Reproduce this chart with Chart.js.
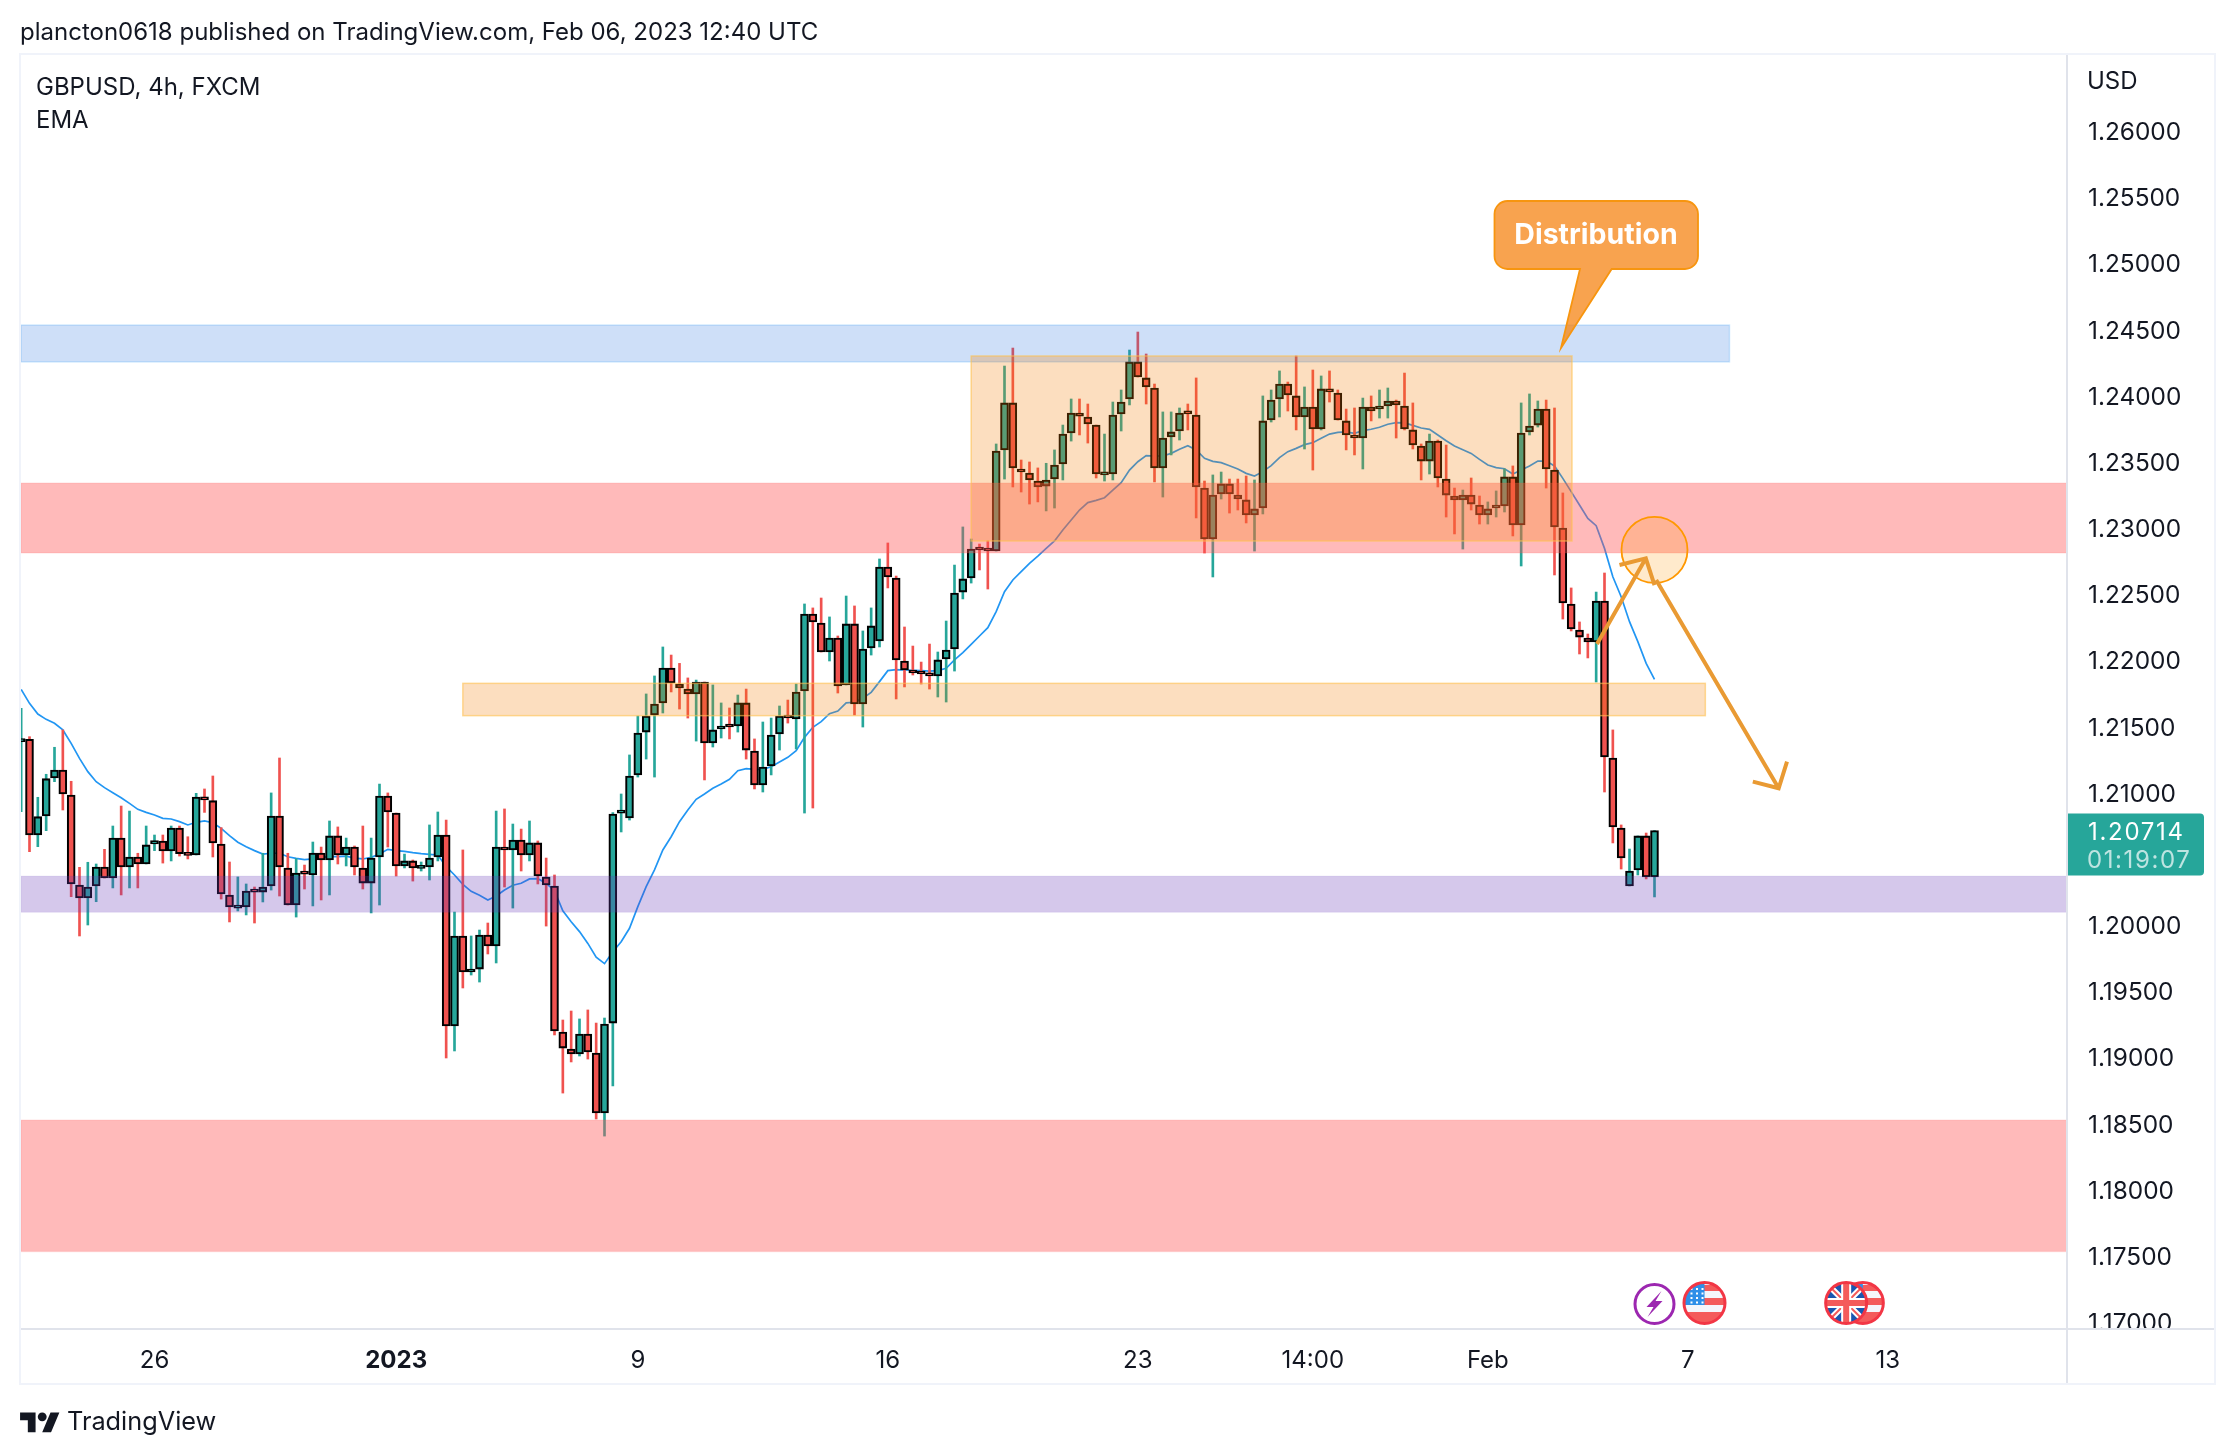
<!DOCTYPE html>
<html>
<head>
<meta charset="utf-8">
<title>GBPUSD, 4h, FXCM</title>
<script src="https://cdn.jsdelivr.net/npm/chart.js@4/dist/chart.umd.min.js"></script>
<style>
  html, body { margin: 0; padding: 0; background: #fff; }
  body { width: 2234px; height: 1454px; position: relative; overflow: hidden; font-family: Inter, sans-serif; color: #131722; }
  canvas { position: absolute; left: 0; top: 0; }
  .label { position: absolute; white-space: nowrap; font-size: 24px; line-height: 30px; }
  #logo { position: absolute; left: 20px; top: 1408px; width: 40px; height: 31px; }
</style>
</head>
<body>
<canvas id="chart" width="2234" height="1454"></canvas>
<div class="label" style="left:20px;top:17px">plancton0618 published on TradingView.com, Feb 06, 2023 12:40 UTC</div>
<div class="label" style="left:36px;top:72px">GBPUSD, 4h, FXCM</div>
<div class="label" style="left:36px;top:105px">EMA</div>
<div class="label" style="left:2087px;top:66px">USD</div>
<svg id="logo" viewBox="0 0 36 28"><path fill="#131722" d="M14 22H7V11H0V4h14v18zM28 22h-8l7.5-18h8L28 22z"/><circle fill="#131722" cx="20" cy="8" r="4"/></svg>
<div class="label" style="left:67px;top:1406px;font-size:25.3px">TradingView</div>

<script>
const opens = [
  1.21385, 1.21403, 1.20680, 1.20824, 1.21111, 1.21171, 1.20982, 1.20302, 1.20204, 1.20295,
  1.20438, 1.20355, 1.20657, 1.20438, 1.20514, 1.20461, 1.20612, 1.20635, 1.20559, 1.20733,
  1.20531, 1.20529, 1.20967, 1.20940, 1.20612, 1.20227, 1.20128, 1.20136, 1.20257, 1.20249,
  1.20295, 1.20824, 1.20431, 1.20151, 1.20393, 1.20378, 1.20544, 1.20491, 1.20673, 1.20529,
  1.20589, 1.20431, 1.20317, 1.20514, 1.20975, 1.20846, 1.20446, 1.20484, 1.20428, 1.20438,
  1.20514, 1.20680, 1.19237, 1.19917, 1.19645, 1.19667, 1.19924, 1.19841, 1.20589, 1.20567,
  1.20642, 1.20529, 1.20620, 1.20363, 1.20295, 1.19191, 1.19063, 1.19025, 1.19176, 1.19033,
  1.18579, 1.19259, 1.20846, 1.20809, 1.21134, 1.21458, 1.21587, 1.21678, 1.21942, 1.21821,
  1.21783, 1.21746, 1.21836, 1.21375, 1.21481, 1.21504, 1.21504, 1.21678, 1.21315, 1.21058,
  1.21202, 1.21443, 1.21579, 1.21557, 1.21768, 1.22350, 1.22282, 1.22063, 1.22169, 1.21814,
  1.22275, 1.21670, 1.22093, 1.22146, 1.22705, 1.22622, 1.21995, 1.21919, 1.21904, 1.21889,
  1.21882, 1.22010, 1.22086, 1.22516, 1.22622, 1.22841, 1.22834, 1.22826, 1.23590, 1.23945,
  1.23446, 1.23416, 1.23355, 1.23317, 1.23370, 1.23484, 1.23718, 1.23869, 1.23839, 1.23778,
  1.23401, 1.23408, 1.23862, 1.23975, 1.24255, 1.24134, 1.24058, 1.23454, 1.23688, 1.23733,
  1.23869, 1.23854, 1.23302, 1.22917, 1.23257, 1.23333, 1.23249, 1.23212, 1.23098, 1.23151,
  1.23816, 1.23975, 1.24088, 1.23998, 1.23839, 1.23914, 1.23748, 1.24051, 1.24020, 1.23809,
  1.23695, 1.23680, 1.23914, 1.23899, 1.23922, 1.23960, 1.23922, 1.23741, 1.23620, 1.23506,
  1.23657, 1.23370, 1.23242, 1.23212, 1.23249, 1.23174, 1.23098, 1.23151, 1.23166, 1.23386,
  1.23023, 1.23726, 1.23778, 1.23899, 1.23438, 1.23000, 1.22426, 1.22229, 1.22169, 1.22139,
  1.22448, 1.21262, 1.20733, 1.20295, 1.20416, 1.20673, 1.20363
]
const highs = [
  1.21637, 1.21423, 1.20965, 1.21139, 1.21343, 1.21474, 1.21086, 1.20436, 1.20474, 1.20461,
  1.20572, 1.20748, 1.20899, 1.20861, 1.20542, 1.20748, 1.20680, 1.20680, 1.20748, 1.20748,
  1.20667, 1.20995, 1.21028, 1.21126, 1.20736, 1.20476, 1.20363, 1.20310, 1.20287, 1.20542,
  1.20998, 1.21262, 1.20542, 1.20501, 1.20453, 1.20627, 1.20589, 1.20786, 1.20741, 1.20657,
  1.20597, 1.20748, 1.20657, 1.21065, 1.20998, 1.20846, 1.20536, 1.20491, 1.20476, 1.20756,
  1.20854, 1.20793, 1.20098, 1.20567, 1.19917, 1.19962, 1.20015, 1.20861, 1.20877, 1.20763,
  1.20725, 1.20786, 1.20635, 1.20506, 1.20378, 1.19282, 1.19350, 1.19290, 1.19358, 1.19259,
  1.19297, 1.20850, 1.20990, 1.21285, 1.21579, 1.21746, 1.21882, 1.22101, 1.22040, 1.21977,
  1.21867, 1.21851, 1.21836, 1.21814, 1.21678, 1.21640, 1.21738, 1.21783, 1.21406, 1.21534,
  1.21564, 1.21655, 1.21700, 1.21821, 1.22426, 1.22396, 1.22471, 1.22328, 1.22184, 1.22486,
  1.22411, 1.22222, 1.22396, 1.22766, 1.22887, 1.22637, 1.22252, 1.22108, 1.21987, 1.22123,
  1.22063, 1.22297, 1.22720, 1.23008, 1.22917, 1.22879, 1.22902, 1.23635, 1.24224, 1.24360,
  1.23514, 1.23499, 1.23454, 1.23489, 1.23590, 1.23778, 1.23975, 1.23975, 1.23937, 1.23778,
  1.23710, 1.23952, 1.24043, 1.24345, 1.24481, 1.24315, 1.24088, 1.23877, 1.23877, 1.23907,
  1.23937, 1.24134, 1.23355, 1.23401, 1.23423, 1.23370, 1.23370, 1.23393, 1.23363, 1.23998,
  1.24043, 1.24187, 1.24103, 1.24300, 1.24066, 1.24194, 1.24149, 1.24187, 1.24043, 1.23899,
  1.23907, 1.23982, 1.23998, 1.24043, 1.24058, 1.23967, 1.24171, 1.23945, 1.23635, 1.23710,
  1.23665, 1.23627, 1.23302, 1.23287, 1.23378, 1.23242, 1.23197, 1.23280, 1.23446, 1.23469,
  1.23945, 1.24013, 1.23960, 1.23967, 1.23907, 1.23265, 1.22547, 1.22290, 1.22199, 1.22516,
  1.22660, 1.21474, 1.20756, 1.20574, 1.20673, 1.20695, 1.20714
]
const lows = [
  1.20856, 1.20554, 1.20592, 1.20713, 1.21083, 1.20869, 1.20214, 1.19917, 1.20000, 1.20176,
  1.20355, 1.20280, 1.20227, 1.20280, 1.20280, 1.20461, 1.20562, 1.20468, 1.20484, 1.20521,
  1.20499, 1.20529, 1.20851, 1.20514, 1.20196, 1.20023, 1.20106, 1.20076, 1.20015, 1.20174,
  1.20264, 1.20219, 1.20151, 1.20060, 1.20272, 1.20144, 1.20189, 1.20227, 1.20461, 1.20446,
  1.20378, 1.20272, 1.20091, 1.20151, 1.20589, 1.20370, 1.20431, 1.20332, 1.20408, 1.20340,
  1.20484, 1.18995, 1.19048, 1.19524, 1.19622, 1.19569, 1.19781, 1.19713, 1.20287, 1.20128,
  1.20408, 1.20484, 1.20310, 1.19992, 1.19169, 1.18730, 1.18965, 1.19010, 1.18987, 1.18534,
  1.18405, 1.18783, 1.20703, 1.20793, 1.21118, 1.21254, 1.21118, 1.21602, 1.21761, 1.21632,
  1.21564, 1.21390, 1.21096, 1.21345, 1.21413, 1.21406, 1.21458, 1.21254, 1.21028, 1.21005,
  1.21134, 1.21322, 1.21526, 1.21330, 1.20846, 1.20884, 1.22063, 1.21995, 1.21753, 1.21814,
  1.21587, 1.21496, 1.22040, 1.22101, 1.22547, 1.21708, 1.21799, 1.21889, 1.21821, 1.21783,
  1.21723, 1.21685, 1.21919, 1.22464, 1.22584, 1.22683, 1.22539, 1.22826, 1.23370, 1.23310,
  1.23272, 1.23181, 1.23197, 1.23129, 1.23151, 1.23363, 1.23657, 1.23703, 1.23642, 1.23378,
  1.23355, 1.23363, 1.23733, 1.23930, 1.24141, 1.23937, 1.23348, 1.23234, 1.23552, 1.23665,
  1.23741, 1.23076, 1.22811, 1.22630, 1.23219, 1.23113, 1.23136, 1.23038, 1.22826, 1.23106,
  1.23801, 1.23839, 1.23884, 1.23741, 1.23597, 1.23438, 1.23741, 1.23952, 1.23816, 1.23590,
  1.23552, 1.23446, 1.23809, 1.23831, 1.23831, 1.23680, 1.23741, 1.23597, 1.23363, 1.23408,
  1.23310, 1.23083, 1.22955, 1.22841, 1.23136, 1.23030, 1.23030, 1.23083, 1.23121, 1.22940,
  1.22713, 1.23703, 1.23763, 1.23302, 1.22645, 1.22312, 1.22222, 1.22048, 1.22018, 1.21836,
  1.21005, 1.20620, 1.20423, 1.20295, 1.20378, 1.20348, 1.20212
]
const closes = [
  1.21408, 1.20680, 1.20819, 1.21106, 1.21171, 1.20990, 1.20310, 1.20204, 1.20287, 1.20438,
  1.20355, 1.20657, 1.20438, 1.20514, 1.20461, 1.20605, 1.20637, 1.20559, 1.20733, 1.20539,
  1.20526, 1.20967, 1.20945, 1.20620, 1.20234, 1.20136, 1.20136, 1.20257, 1.20249, 1.20287,
  1.20824, 1.20438, 1.20151, 1.20393, 1.20385, 1.20544, 1.20491, 1.20673, 1.20529, 1.20589,
  1.20438, 1.20317, 1.20506, 1.20975, 1.20854, 1.20446, 1.20484, 1.20431, 1.20433, 1.20506,
  1.20680, 1.19237, 1.19917, 1.19645, 1.19660, 1.19924, 1.19841, 1.20589, 1.20567, 1.20642,
  1.20529, 1.20620, 1.20370, 1.20302, 1.19199, 1.19070, 1.19025, 1.19176, 1.19040, 1.18579,
  1.19252, 1.20839, 1.20854, 1.21126, 1.21451, 1.21579, 1.21670, 1.21942, 1.21829, 1.21791,
  1.21746, 1.21836, 1.21375, 1.21474, 1.21496, 1.21496, 1.21678, 1.21322, 1.21058, 1.21194,
  1.21436, 1.21579, 1.21564, 1.21761, 1.22350, 1.22290, 1.22063, 1.22169, 1.21806, 1.22275,
  1.21670, 1.22086, 1.22260, 1.22705, 1.22630, 1.22003, 1.21927, 1.21904, 1.21897, 1.21882,
  1.22003, 1.22078, 1.22509, 1.22615, 1.22841, 1.22834, 1.22826, 1.23582, 1.23945, 1.23454,
  1.23423, 1.23363, 1.23310, 1.23363, 1.23476, 1.23710, 1.23869, 1.23846, 1.23786, 1.23408,
  1.23411, 1.23854, 1.23952, 1.24255, 1.24141, 1.24066, 1.23454, 1.23680, 1.23726, 1.23869,
  1.23862, 1.23310, 1.22917, 1.23249, 1.23333, 1.23257, 1.23219, 1.23098, 1.23144, 1.23809,
  1.23967, 1.24088, 1.24005, 1.23839, 1.23914, 1.23748, 1.24051, 1.24028, 1.23816, 1.23703,
  1.23680, 1.23914, 1.23884, 1.23914, 1.23960, 1.23930, 1.23748, 1.23627, 1.23506, 1.23657,
  1.23378, 1.23249, 1.23212, 1.23249, 1.23181, 1.23098, 1.23144, 1.23159, 1.23386, 1.23023,
  1.23718, 1.23771, 1.23899, 1.23446, 1.23008, 1.22433, 1.22237, 1.22176, 1.22139, 1.22448,
  1.21270, 1.20741, 1.20506, 1.20408, 1.20673, 1.20363, 1.20714
]
const emaValues = [
  1.21781, 1.21675, 1.21594, 1.21554, 1.21524, 1.21474, 1.21373, 1.21259, 1.21159, 1.21083,
  1.21038, 1.21000, 1.20962, 1.20919, 1.20874, 1.20851, 1.20831, 1.20806, 1.20801, 1.20781,
  1.20756, 1.20776, 1.20786, 1.20773, 1.20730, 1.20675, 1.20625, 1.20592, 1.20562, 1.20536,
  1.20542, 1.20542, 1.20516, 1.20504, 1.20494, 1.20499, 1.20511, 1.20516, 1.20516, 1.20521,
  1.20506, 1.20499, 1.20511, 1.20536, 1.20572, 1.20562, 1.20557, 1.20547, 1.20539, 1.20534,
  1.20529, 1.20441, 1.20378, 1.20307, 1.20254, 1.20224, 1.20189, 1.20219, 1.20264, 1.20300,
  1.20315, 1.20348, 1.20350, 1.20315, 1.20259, 1.20108, 1.20025, 1.19950, 1.19861, 1.19756,
  1.19708, 1.19798, 1.19874, 1.19975, 1.20139, 1.20290, 1.20416, 1.20567, 1.20667, 1.20781,
  1.20869, 1.20950, 1.20990, 1.21033, 1.21065, 1.21101, 1.21166, 1.21181, 1.21176, 1.21176,
  1.21196, 1.21232, 1.21267, 1.21317, 1.21418, 1.21494, 1.21537, 1.21597, 1.21617, 1.21678,
  1.21683, 1.21713, 1.21758, 1.21839, 1.21922, 1.21930, 1.21927, 1.21925, 1.21922, 1.21919,
  1.21922, 1.21940, 1.22003, 1.22058, 1.22121, 1.22184, 1.22247, 1.22368, 1.22519, 1.22607,
  1.22670, 1.22733, 1.22788, 1.22846, 1.22902, 1.22985, 1.23061, 1.23136, 1.23192, 1.23209,
  1.23229, 1.23287, 1.23343, 1.23438, 1.23501, 1.23547, 1.23544, 1.23544, 1.23564, 1.23595,
  1.23622, 1.23590, 1.23527, 1.23504, 1.23494, 1.23471, 1.23446, 1.23413, 1.23393, 1.23426,
  1.23471, 1.23532, 1.23577, 1.23602, 1.23630, 1.23645, 1.23678, 1.23710, 1.23723, 1.23726,
  1.23715, 1.23736, 1.23746, 1.23761, 1.23784, 1.23796, 1.23794, 1.23776, 1.23756, 1.23746,
  1.23703, 1.23660, 1.23620, 1.23592, 1.23564, 1.23519, 1.23476, 1.23456, 1.23448, 1.23408,
  1.23438, 1.23469, 1.23506, 1.23506, 1.23469, 1.23375, 1.23275, 1.23174, 1.23073, 1.23018,
  1.22846, 1.22632, 1.22481, 1.22292, 1.22141, 1.21977, 1.21856
]

const priceTicks = [1.26, 1.255, 1.25, 1.245, 1.24, 1.235, 1.23, 1.225, 1.22, 1.215, 1.21, 1.205, 1.2, 1.195, 1.19, 1.185, 1.18, 1.175, 1.17]
const timeTickIndex = [16, 45, 74, 104, 134, 155, 176, 200, 224]
const timeTickLabels = ["26", "2023", "9", "16", "23", "14:00", "Feb", "7", "13"]
const lastPrice = 1.20714
const lastPriceCountdown = "01:19:07"

// zones: [first bar, last bar, top price, bottom price]; null bar = runs to the pane edge
const zoneIndexFrom = [null, null, null, null, 114, 53]
const zoneIndexTo = [null, null, null, 205, 186.1, 202.1]
const zoneTop = [1.23340, 1.18526, 1.20370, 1.24534, 1.24300, 1.21826]
const zoneBottom = [1.22811, 1.17532, 1.20096, 1.24255, 1.22902, 1.21582]

const circleIndex = 196
const circlePrice = 1.22834
// arrows: start, tip, two head arms
const arrowUpIndex = [189.1, 194.96, 191.8, 196.0]
const arrowUpPrice = [1.22123, 1.22771, 1.22720, 1.22569]
const arrowDownIndex = [196.2, 210.9, 207.8, 211.9]
const arrowDownPrice = [1.22607, 1.21033, 1.21083, 1.21234]

const GREEN = "#26a69a"
const RED = "#f0524f"
const INK = "#131722"
const AXIS_LINE = "#e0e3eb"
const FRAME_LINE = "#f0f3fa"

const zoneStyles = [
  { fill: "rgba(255,82,82,0.4)", line: "rgba(255,82,82,0.1)" },
  { fill: "rgba(255,82,82,0.4)", line: "rgba(255,82,82,0.1)" },
  { fill: "rgba(103,58,183,0.28)", line: "rgba(103,58,183,0.05)" },
  { fill: "rgba(33,111,225,0.22)", line: "rgba(33,150,243,0.2)" },
  { fill: "rgba(245,124,0,0.25)", line: "rgba(255,193,80,0.6)" },
  { fill: "rgba(245,124,0,0.25)", line: "rgba(255,193,80,0.6)" }
]

const candleColors = closes.map((c, i) => (c >= opens[i] ? GREEN : RED))

function drawZones(chart) {
  const { ctx, chartArea, scales } = chart
  ctx.save()
  ctx.beginPath()
  ctx.rect(chartArea.left, chartArea.top, chartArea.width, chartArea.height)
  ctx.clip()
  zoneTop.forEach((top, i) => {
    const x1 = zoneIndexFrom[i] === null ? chartArea.left : scales.x.getPixelForValue(zoneIndexFrom[i])
    const x2 = zoneIndexTo[i] === null ? chartArea.right : scales.x.getPixelForValue(zoneIndexTo[i])
    const y1 = scales.y.getPixelForValue(top)
    const y2 = scales.y.getPixelForValue(zoneBottom[i])
    ctx.fillStyle = zoneStyles[i].fill
    ctx.fillRect(x1, y1, x2 - x1, y2 - y1)
    ctx.strokeStyle = zoneStyles[i].line
    ctx.lineWidth = 1.5
    ctx.strokeRect(x1, y1, x2 - x1, y2 - y1)
  })
  ctx.restore()
}

function drawArrow(chart, xs, ys) {
  const { ctx, scales } = chart
  const px = xs.map((v) => scales.x.getPixelForValue(v))
  const py = ys.map((v) => scales.y.getPixelForValue(v))
  ctx.beginPath()
  ctx.moveTo(px[0], py[0])
  ctx.lineTo(px[1], py[1])
  ctx.moveTo(px[2], py[2])
  ctx.lineTo(px[1], py[1])
  ctx.lineTo(px[3], py[3])
  ctx.strokeStyle = "#e99a33"
  ctx.lineWidth = 4
  ctx.stroke()
}

function drawCallout(ctx) {
  const [l, t, r, b, rad] = [1494.5, 201, 1698, 269, 13]
  ctx.beginPath()
  ctx.moveTo(l + rad, t)
  ctx.arcTo(r, t, r, b, rad)
  ctx.arcTo(r, b, l, b, rad)
  ctx.lineTo(1611.7, b)
  ctx.lineTo(1561, 348)
  ctx.lineTo(1580, b)
  ctx.arcTo(l, b, l, t, rad)
  ctx.arcTo(l, t, r, t, rad)
  ctx.closePath()
  ctx.fillStyle = "rgba(245,132,20,0.75)"
  ctx.fill()
  ctx.strokeStyle = "#f7950f"
  ctx.lineWidth = 1.8
  ctx.stroke()
  ctx.fillStyle = "#fff"
  ctx.font = "700 28.5px Inter"
  ctx.textAlign = "center"
  ctx.textBaseline = "middle"
  ctx.fillText("Distribution", 1596, 235)
}

function drawBadge(chart) {
  const { ctx, scales, chartArea } = chart
  const y = scales.y.getPixelForValue(lastPrice)
  ctx.beginPath()
  ctx.roundRect(chartArea.right - 1, y - 17, 138, 62, [0, 4, 4, 0])
  ctx.fillStyle = GREEN
  ctx.fill()
  ctx.textAlign = "left"
  ctx.textBaseline = "middle"
  ctx.font = "24px Inter"
  ctx.letterSpacing = "1.7px"
  ctx.fillStyle = "#fff"
  ctx.fillText(lastPrice.toFixed(5), 2088, y + 2)
  ctx.letterSpacing = "1.6px"
  ctx.fillStyle = "rgba(255,255,255,0.7)"
  ctx.fillText(lastPriceCountdown, 2087, y + 30)
  ctx.letterSpacing = "0px"
}

function iconCircle(ctx, x, y, r, color, paint) {
  ctx.save()
  ctx.beginPath()
  ctx.arc(x, y, r, 0, Math.PI * 2)
  ctx.fillStyle = "#fff"
  ctx.fill()
  ctx.clip()
  paint()
  ctx.restore()
  ctx.beginPath()
  ctx.arc(x, y, r, 0, Math.PI * 2)
  ctx.strokeStyle = color
  ctx.lineWidth = 3
  ctx.stroke()
}

function drawUsFlag(ctx, x, y) {
  iconCircle(ctx, x, y, 20.5, "#f23645", () => {
    ctx.fillStyle = "#f5f6fb"
    ctx.fillRect(x - 22, y - 22, 44, 44)
    ctx.fillStyle = "#f45b5b"
    ctx.fillRect(x - 22, y - 18, 44, 6)
    ctx.fillRect(x - 22, y - 5, 44, 7)
    ctx.fillRect(x - 22, y + 9, 44, 13)
    ctx.fillStyle = "#2f8fe8"
    ctx.fillRect(x - 22, y - 22, 22, 24)
    ctx.fillStyle = "#fff"
    for (let row = 0; row < 4; row++) {
      for (let col = 0; col < 3; col++) {
        ctx.fillRect(x - 14 + col * 5.5, y - 15 + row * 4.5, 2, 2)
      }
    }
  })
}

function drawUkFlag(ctx, x, y) {
  iconCircle(ctx, x, y, 20.5, "#f23645", () => {
    ctx.fillStyle = "#1a56b0"
    ctx.fillRect(x - 22, y - 22, 44, 44)
    ctx.lineCap = "butt"
    ctx.strokeStyle = "#fff"
    ctx.lineWidth = 6
    ctx.beginPath()
    ctx.moveTo(x - 20, y - 20)
    ctx.lineTo(x + 20, y + 20)
    ctx.moveTo(x + 20, y - 20)
    ctx.lineTo(x - 20, y + 20)
    ctx.stroke()
    ctx.strokeStyle = "#f45b5b"
    ctx.lineWidth = 2
    ctx.stroke()
    ctx.fillStyle = "#fff"
    ctx.fillRect(x - 22, y - 5, 44, 10)
    ctx.fillRect(x - 5, y - 22, 10, 44)
    ctx.fillStyle = "#f45b5b"
    ctx.fillRect(x - 22, y - 3, 44, 6)
    ctx.fillRect(x - 3, y - 22, 6, 44)
  })
}

function drawBolt(ctx, x, y) {
  iconCircle(ctx, x, y, 19.5, "#9c27b0", () => {
    ctx.beginPath()
    ctx.moveTo(x + 7, y - 13)
    ctx.lineTo(x - 8, y + 3)
    ctx.lineTo(x - 1, y + 3)
    ctx.lineTo(x - 7, y + 13)
    ctx.lineTo(x + 8, y - 3)
    ctx.lineTo(x + 1, y - 3)
    ctx.closePath()
    ctx.fillStyle = "#9c27b0"
    ctx.fill()
  })
}

const overlayPlugin = {
  id: "overlay",
  beforeDraw(chart) {
    // price labels sit a touch lower than the tick centre
    chart.scales.y.getLabelItems().forEach((item) => {
      if (!item.shifted) {
        item.options.translation[1] += 1.8
        item.shifted = true
      }
    })
  },
  afterDatasetsDraw(chart) {
    const { ctx, chartArea, scales, width } = chart
    drawZones(chart)

    // circle, callout, arrows
    const cx = scales.x.getPixelForValue(circleIndex)
    const cy = scales.y.getPixelForValue(circlePrice)
    ctx.beginPath()
    ctx.arc(cx, cy, 33, 0, Math.PI * 2)
    ctx.fillStyle = "rgba(255,152,0,0.2)"
    ctx.fill()
    ctx.strokeStyle = "#ff9800"
    ctx.lineWidth = 1.8
    ctx.stroke()
    drawArrow(chart, arrowUpIndex, arrowUpPrice)
    drawArrow(chart, arrowDownIndex, arrowDownPrice)
    drawCallout(ctx)

    // events on the time line
    const evY = chartArea.bottom - 26
    drawBolt(ctx, scales.x.getPixelForValue(196), evY + 1)
    drawUsFlag(ctx, scales.x.getPixelForValue(202), evY)
    drawUsFlag(ctx, scales.x.getPixelForValue(221), evY)
    drawUkFlag(ctx, scales.x.getPixelForValue(219), evY)

    // time axis strip clips the lowest price label
    ctx.fillStyle = "#fff"
    ctx.fillRect(0, chartArea.bottom, width, 54)

    drawBadge(chart)

    // pane borders
    ctx.fillStyle = FRAME_LINE
    ctx.fillRect(19, 53, 2197, 2)
    ctx.fillRect(19, 1383, 2197, 2)
    ctx.fillRect(19, 53, 2, 1332)
    ctx.fillRect(2214, 53, 2, 1332)
    ctx.fillStyle = AXIS_LINE
    ctx.fillRect(21, 1328, 2193, 2)
    ctx.fillRect(2066, 55, 2, 1328)
  }
}

new Chart(document.getElementById("chart"), {
  data: {
    datasets: [
      {
        type: "line",
        label: "EMA",
        order: 3,
        data: emaValues.map((y, i) => ({ x: i, y })),
        borderColor: "#2196f3",
        borderWidth: 1.7,
        pointRadius: 0,
        tension: 0
      },
      {
        type: "bar",
        label: "Wick",
        order: 2,
        grouped: false,
        data: highs.map((h, i) => ({ x: i, y: [lows[i], h] })),
        backgroundColor: candleColors,
        borderWidth: 0,
        barThickness: 2
      },
      {
        type: "bar",
        label: "Body",
        order: 1,
        grouped: false,
        data: opens.map((o, i) => ({ x: i, y: [o, closes[i]] })),
        backgroundColor: candleColors,
        borderColor: "#000",
        borderWidth: 2.1,
        borderSkipped: false,
        barThickness: 8,
        minBarLength: 3
      }
    ]
  },
  options: {
    responsive: false,
    devicePixelRatio: 1,
    animation: false,
    layout: { padding: { left: 21, top: 54, right: 19, bottom: 71 } },
    plugins: { legend: { display: false }, tooltip: { enabled: false } },
    scales: {
      x: {
        type: "linear",
        offset: false,
        min: -0.02,
        max: 245.5,
        grid: { display: false },
        border: { display: false },
        afterBuildTicks: (scale) => { scale.ticks = timeTickIndex.map((value) => ({ value })) },
        afterFit: (scale) => { scale.height = 54 },
        ticks: {
          z: 1,
          autoSkip: false,
          maxRotation: 0,
          padding: 9,
          color: INK,
          font: (ctx) => ({ family: "Inter", size: 24, weight: ctx.tick && ctx.tick.value === 45 ? "700" : "400" }),
          callback: (value) => timeTickLabels[timeTickIndex.indexOf(value)]
        }
      },
      y: {
        position: "right",
        min: 1.16947,
        max: 1.26582,
        grid: { display: false },
        border: { display: false },
        afterBuildTicks: (scale) => { scale.ticks = priceTicks.map((value) => ({ value })) },
        afterFit: (scale) => { scale.width = 148 },
        ticks: {
          autoSkip: false,
          crossAlign: "near",
          padding: 13,
          color: INK,
          font: { family: "Inter", size: 24.4 },
          callback: (value) => value.toFixed(5)
        }
      }
    }
  },
  plugins: [overlayPlugin]
})
</script>
</body>
</html>
